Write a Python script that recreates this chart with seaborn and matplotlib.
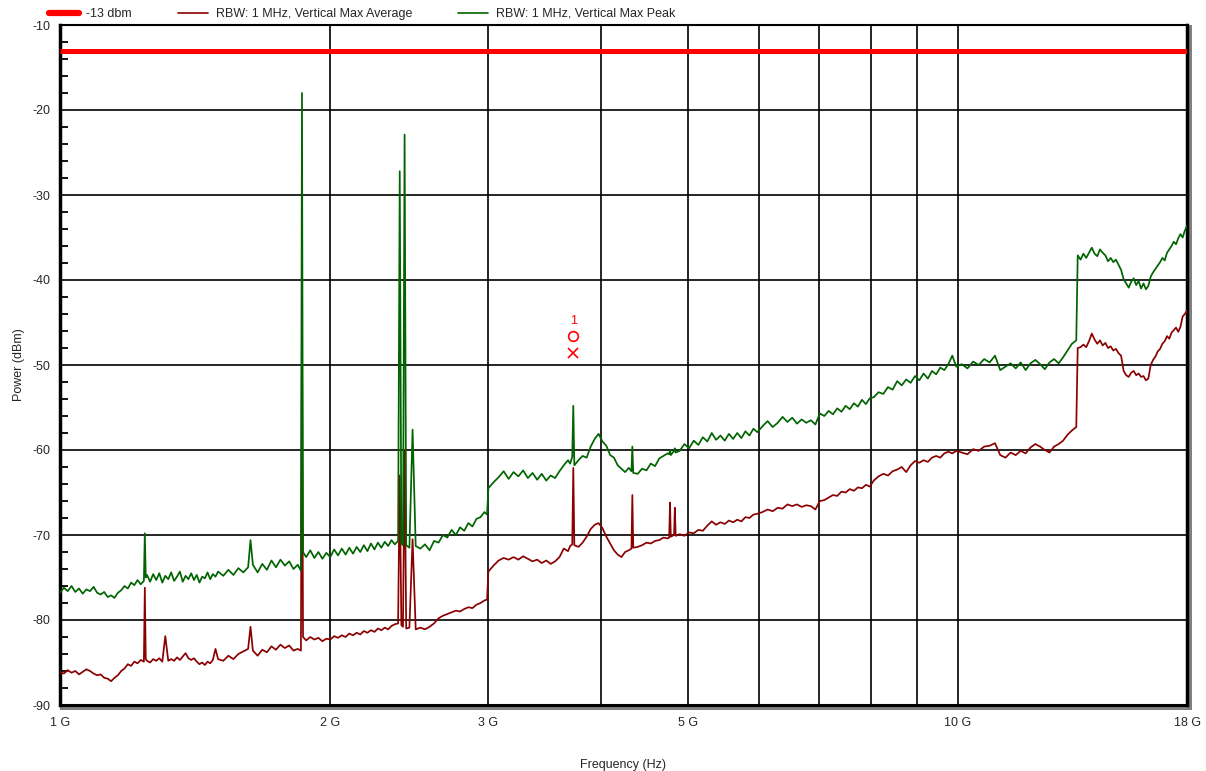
import matplotlib
matplotlib.use("Agg")
import matplotlib.pyplot as plt
import pandas as pd
import seaborn as sns
from matplotlib.lines import Line2D
from matplotlib.patches import Rectangle
from matplotlib.ticker import FixedLocator, MultipleLocator, NullFormatter

# ---------------- data ----------------
freq_ghz = [
    # 1.00 - 1.50
    1.00, 1.01, 1.02, 1.03, 1.04, 1.05, 1.06, 1.07, 1.08, 1.09,
    1.10, 1.11, 1.12, 1.13, 1.14, 1.15, 1.16, 1.17, 1.18, 1.19,
    1.20, 1.21, 1.22, 1.23, 1.24, 1.243, 1.246, 1.25, 1.26, 1.27,
    1.28, 1.29, 1.30, 1.31, 1.32, 1.33, 1.34, 1.35, 1.36, 1.37,
    1.38, 1.39, 1.40, 1.41, 1.42, 1.43, 1.44, 1.45, 1.46, 1.47,
    1.48, 1.49, 1.50,
    # 1.52 - 1.865
    1.52, 1.54, 1.56, 1.58, 1.60, 1.62, 1.63, 1.64, 1.66, 1.68,
    1.70, 1.72, 1.74, 1.76, 1.78, 1.80, 1.82, 1.84, 1.855, 1.86,
    1.865,
    # 1.88 - 2.36
    1.88, 1.90, 1.92, 1.94, 1.96, 1.98, 2.00, 2.02, 2.04, 2.06,
    2.08, 2.10, 2.12, 2.14, 2.16, 2.18, 2.20, 2.22, 2.24, 2.26,
    2.28, 2.30, 2.32, 2.34, 2.36,
    # spikes 2.38 - 2.49
    2.38, 2.39, 2.40, 2.41, 2.42, 2.43, 2.45, 2.47, 2.49,
    # 2.52 - 3.00
    2.52, 2.55, 2.58, 2.61, 2.64, 2.67, 2.70, 2.73, 2.76, 2.79,
    2.82, 2.85, 2.88, 2.91, 2.94, 2.97, 2.99, 3.00,
    # 3.04 - 3.74
    3.04, 3.08, 3.12, 3.16, 3.20, 3.24, 3.28, 3.32, 3.36, 3.40,
    3.44, 3.48, 3.52, 3.56, 3.60, 3.64, 3.68, 3.70, 3.72, 3.73,
    3.74,
    # 3.78 - 4.35
    3.78, 3.82, 3.86, 3.90, 3.94, 3.98, 4.02, 4.06, 4.10, 4.14,
    4.18, 4.22, 4.26, 4.30, 4.33, 4.34, 4.35,
    # 4.40 - 4.85
    4.40, 4.45, 4.50, 4.55, 4.60, 4.65, 4.70, 4.75, 4.77, 4.78,
    4.79, 4.83, 4.84, 4.85,
    # 4.90 - 5.98
    4.90, 4.96, 5.02, 5.08, 5.14, 5.20, 5.26, 5.32, 5.38, 5.44,
    5.50, 5.56, 5.62, 5.68, 5.74, 5.80, 5.86, 5.92, 5.98,
    # 6.06 - 7.98
    6.06, 6.14, 6.22, 6.30, 6.38, 6.46, 6.54, 6.62, 6.70, 6.78,
    6.86, 6.94, 7.02, 7.10, 7.18, 7.26, 7.34, 7.42, 7.50, 7.58,
    7.66, 7.74, 7.82, 7.90, 7.98,
    # 8.06 - 9.96
    8.06, 8.16, 8.26, 8.36, 8.46, 8.56, 8.66, 8.76, 8.86, 8.96,
    9.06, 9.16, 9.26, 9.36, 9.46, 9.56, 9.66, 9.76, 9.86, 9.96,
    # 10.10 - 13.60
    10.10, 10.25, 10.40, 10.55, 10.70, 10.85, 11.00, 11.15, 11.30, 11.45,
    11.60, 11.75, 11.90, 12.05, 12.20, 12.35, 12.50, 12.65, 12.80, 12.95,
    13.10, 13.25, 13.40, 13.55, 13.60,
    # 13.70 - 18.00
    13.70, 13.80, 13.90, 14.00, 14.10, 14.20, 14.30, 14.40, 14.50, 14.60,
    14.70, 14.80, 14.90, 15.00, 15.10, 15.20, 15.30, 15.40, 15.50, 15.60,
    15.70, 15.80, 15.90, 16.00, 16.10, 16.20, 16.30, 16.40, 16.50, 16.60,
    16.70, 16.80, 16.90, 17.00, 17.10, 17.20, 17.30, 17.40, 17.50, 17.60,
    17.70, 17.80, 17.90, 18.00,
]

avg_dbm = [
    -86.1, -86.3, -85.9, -86.2, -86.0, -86.4, -86.1, -85.8, -86.0, -86.3,
    -86.5, -86.4, -86.8, -86.9, -87.2, -86.8, -86.5, -86.0, -85.7, -85.2,
    -85.4, -84.9, -85.1, -84.7, -84.9, -76.2, -84.6, -84.8, -85.0, -84.6,
    -84.8, -84.5, -84.9, -81.9, -84.8, -84.6, -84.8, -84.4, -84.7, -84.3,
    -83.9, -84.5, -84.7, -84.5, -84.9, -85.2, -85.0, -85.3, -84.9, -85.1,
    -84.7, -83.4, -84.6,
    -84.8, -84.2, -84.6, -84.0, -83.7, -83.4, -80.8, -83.6, -84.2, -83.5,
    -83.8, -83.1, -83.5, -82.9, -83.3, -83.0, -83.6, -83.4, -83.6, -45.0,
    -82.0,
    -82.4, -82.0, -82.3, -82.1, -82.5, -82.2, -82.3, -81.9, -82.1, -81.8,
    -82.0, -81.6, -81.8, -81.5, -81.7, -81.3, -81.5, -81.2, -81.4, -81.0,
    -81.2, -80.9, -81.1, -80.7, -80.5,
    -80.4, -63.0, -80.6, -80.8, -60.0, -81.0, -80.9, -70.5, -81.1,
    -80.9, -81.1, -80.8, -80.4, -79.8, -79.5, -79.3, -79.1, -78.9, -79.0,
    -78.7, -78.5, -78.6, -78.2, -78.0, -77.7, -77.6, -74.3,
    -73.6, -73.0, -72.7, -72.9, -72.6, -72.9, -72.5, -72.8, -73.1, -72.9,
    -73.3, -73.0, -73.4, -73.1, -72.6, -71.6, -71.9, -71.3, -71.1, -62.1,
    -71.2,
    -71.4, -70.9, -70.2, -69.3, -68.8, -68.6, -69.2, -70.2, -71.0, -71.8,
    -72.3, -72.6, -72.0, -71.8, -71.6, -65.3, -71.5,
    -71.4, -71.2, -70.9, -71.0, -70.7, -70.6, -70.3, -70.4, -70.3, -66.2,
    -70.2, -70.0, -66.8, -70.1,
    -69.9, -70.1, -69.7, -69.8, -69.4, -69.5, -68.9, -68.4, -68.8, -68.5,
    -68.7, -68.3, -68.5, -68.2, -68.4, -67.9, -68.0, -67.6, -67.5,
    -67.3, -67.0, -67.2, -66.8, -66.9, -66.4, -66.6, -66.4, -66.7, -66.5,
    -66.6, -67.0, -66.0, -65.9, -65.6, -65.3, -65.4, -64.9, -65.0, -64.6,
    -64.8, -64.4, -64.5, -64.1, -64.3,
    -63.6, -63.1, -62.8, -63.0, -62.5, -62.3, -62.0, -62.6, -61.8, -61.3,
    -61.5, -61.2, -61.4, -60.9, -60.7, -60.9, -60.4, -60.2, -60.4, -60.1,
    -60.3, -60.5, -59.9, -60.1, -59.6, -59.5, -59.2, -60.6, -60.9, -60.3,
    -60.6, -60.1, -60.4, -59.7, -59.3, -59.6, -60.0, -60.3, -59.6, -59.3,
    -58.9, -58.2, -57.7, -57.3, -48.0,
    -47.9, -47.6, -47.9, -47.2, -46.3, -47.0, -47.5, -47.1, -47.7, -47.4,
    -48.0, -47.8, -48.3, -48.1, -48.6, -48.9, -50.7, -51.2, -51.4, -50.9,
    -50.7, -51.2, -51.0, -51.4, -51.3, -51.8, -51.6, -50.0, -49.4, -49.0,
    -48.4, -48.1, -47.5, -47.2, -46.6, -46.9, -46.2, -45.9, -45.6, -46.1,
    -45.5, -44.3, -44.0, -43.6,
]

peak_dbm = [
    -76.8, -76.2, -76.6, -76.0, -76.7, -76.3, -76.9, -76.4, -76.6, -76.1,
    -76.8, -77.0, -76.7, -77.3, -77.1, -77.4, -76.8, -76.5, -76.0, -76.3,
    -75.6, -75.9, -75.3, -75.8, -75.4, -69.8, -75.0, -74.7, -75.5, -74.6,
    -75.3, -74.5, -75.6, -74.8, -75.2, -74.4, -75.4, -74.9, -74.3, -75.5,
    -74.8, -75.2, -74.5, -75.3, -74.7, -75.6, -74.9, -75.1, -74.4, -75.2,
    -74.6, -74.9, -74.3,
    -74.8, -74.1, -74.7, -73.9, -74.4, -73.8, -70.6, -73.5, -74.4, -73.4,
    -74.1, -73.0, -73.8, -72.9, -73.6, -73.1, -74.0, -73.5, -74.2, -18.0,
    -72.0,
    -72.6, -71.8, -72.7, -72.0, -72.8, -72.1, -72.6, -71.7, -72.4, -71.6,
    -72.3, -71.5, -72.2, -71.4, -72.0, -71.2, -71.9, -71.0, -71.7, -70.9,
    -71.5, -70.8, -71.3, -70.6, -71.1,
    -70.7, -27.2, -71.0, -71.2, -22.9, -71.2, -71.5, -57.6, -71.3,
    -71.6, -71.1, -71.8, -70.7, -70.9, -70.0, -70.3, -69.4, -70.0, -69.1,
    -69.5, -68.6, -69.0, -68.1, -67.9, -67.3, -67.6, -64.5,
    -63.8, -63.2, -62.5, -63.4, -62.6, -63.1, -62.4, -63.3, -62.7, -63.5,
    -62.8, -63.6, -63.0, -63.3, -62.5, -61.8, -61.2, -61.6, -60.8, -54.8,
    -61.8,
    -61.2, -60.7, -60.9, -59.6, -58.7, -58.1, -59.0, -59.5, -60.6, -60.9,
    -61.8, -62.2, -62.6, -62.1, -62.5, -59.6, -62.7,
    -62.8, -62.2, -62.4, -61.6, -61.9, -61.0, -60.7, -60.4, -60.5, -60.0,
    -60.6, -60.1, -59.8, -60.3,
    -60.1, -59.3, -59.8, -58.9, -59.4, -58.5, -59.0, -58.0, -58.8, -58.3,
    -58.9, -58.1, -58.7, -58.0, -58.6, -57.8, -58.3, -57.5, -57.9,
    -57.2, -56.6, -57.3, -56.8, -56.1, -56.7, -56.2, -56.9, -56.4, -56.8,
    -56.5, -57.0, -55.7, -56.0, -55.4, -55.8, -55.1, -55.5, -54.8, -55.2,
    -54.5, -54.9, -54.1, -54.6, -53.9,
    -53.8, -53.2, -53.4, -52.6, -52.9, -51.9, -52.4, -51.7, -52.1, -51.3,
    -51.8, -51.0, -51.6, -50.7, -51.1, -50.3, -50.6, -49.9, -48.9, -50.2,
    -49.9, -50.4, -49.6, -50.0, -49.3, -49.7, -48.9, -50.6, -50.2, -49.8,
    -50.4, -49.7, -50.6, -49.8, -49.4, -49.9, -50.5, -49.7, -49.3, -49.8,
    -49.1, -48.3, -47.5, -47.1, -37.1,
    -37.6, -36.9, -37.4, -36.8, -36.2, -36.9, -37.2, -36.4, -36.8, -37.1,
    -37.8, -37.4, -37.9, -37.6, -38.2, -38.8, -39.9, -40.4, -40.9, -40.2,
    -39.8, -40.6, -40.1, -41.0, -40.4, -41.1, -40.7, -39.6, -39.1, -38.7,
    -38.3, -37.9, -37.4, -37.7, -36.8, -36.4, -36.0, -35.5, -35.8, -35.1,
    -34.6, -35.0, -34.2, -33.6,
]

limit_dbm = -13
limit_label = "-13 dbm"
avg_label = "RBW: 1 MHz, Vertical Max Average"
peak_label = "RBW: 1 MHz, Vertical Max Peak"

marker_freq_ghz = 3.73
marker_circle_dbm = -46.6
marker_cross_dbm = -48.6
marker_text_dbm = -44.8
marker_text = "1"

x_tick_vals = [1, 2, 3, 4, 5, 6, 7, 8, 9, 10, 18]
x_tick_labels = ["1 G", "2 G", "3 G", "", "5 G", "", "", "", "", "10 G", "18 G"]
y_tick_vals = [-90, -80, -70, -60, -50, -40, -30, -20, -10]
y_tick_labels = ["-90", "-80", "-70", "-60", "-50", "-40", "-30", "-20", "-10"]

x_label = "Frequency (Hz)"
y_label = "Power (dBm)"

# ---------------- styling ----------------
sns.set_style("white")
plt.rcParams["font.family"] = ["Liberation Sans", "DejaVu Sans"]

W, H = 1206, 771
fig = plt.figure(figsize=(W / 100, H / 100), dpi=100)
left, right, top, bottom = 60, 1187, 25, 705
ax = fig.add_axes([left / W, 1 - bottom / H, (right - left) / W, (bottom - top) / H])

df = pd.DataFrame({"freq": freq_ghz, "avg": avg_dbm, "peak": peak_dbm})

avg_color = "#8b0000"
peak_color = "#006400"
limit_color = "#ff0000"

ax.axhline(limit_dbm, color=limit_color, lw=3.6, zorder=4, solid_capstyle="butt")
sns.lineplot(data=df, x="freq", y="avg", ax=ax, color=avg_color, lw=1.25,
             estimator=None, sort=False, zorder=3)
sns.lineplot(data=df, x="freq", y="peak", ax=ax, color=peak_color, lw=1.25,
             estimator=None, sort=False, zorder=3)

# marker
ax.plot([marker_freq_ghz], [marker_circle_dbm], marker="o", ms=7, mfc="none",
        mec="#ff0000", mew=1.2, ls="none", zorder=5)
ax.plot([marker_freq_ghz], [marker_cross_dbm], marker="x", ms=7,
        mec="#ff0000", mew=1.2, ls="none", zorder=5)
ax.text(marker_freq_ghz, marker_text_dbm, marker_text, color="#ff0000",
        ha="center", va="center", fontsize=9, zorder=5)

ax.set_xscale("log")
ax.set_xlim(1, 18)
ax.set_ylim(-90, -10)

ax.xaxis.set_major_locator(FixedLocator(x_tick_vals))
ax.set_xticklabels(x_tick_labels)
ax.xaxis.set_minor_locator(FixedLocator([]))
ax.xaxis.set_minor_formatter(NullFormatter())
ax.set_yticks(y_tick_vals)
ax.set_yticklabels(y_tick_labels)
ax.yaxis.set_minor_locator(MultipleLocator(2))

ax.tick_params(axis="x", which="major", direction="out", length=6, width=1.3,
               labelsize=9, pad=3, color="black")
ax.tick_params(axis="y", which="major", direction="out", length=5, width=1.3,
               labelsize=9, pad=2, color="black")
ax.tick_params(axis="y", which="minor", direction="in", length=6, width=1.3,
               color="black", left=True)

ax.grid(True, which="major", color="black", lw=1.2)
ax.set_axisbelow(True)

for name, sp in ax.spines.items():
    sp.set_visible(True)
    sp.set_color("black")
ax.spines["left"].set_linewidth(2.5)
ax.spines["bottom"].set_linewidth(2.2)
ax.spines["top"].set_linewidth(1.5)
ax.spines["right"].set_linewidth(2.5)

# drop shadow (bottom and right)
ax.add_patch(Rectangle((0.0, -0.0075), 1.0045, 0.0075, transform=ax.transAxes,
                       color="#808080", clip_on=False, zorder=1, lw=0))
ax.add_patch(Rectangle((1.0, -0.0075), 0.0045, 1.0075, transform=ax.transAxes,
                       color="#808080", clip_on=False, zorder=1, lw=0))

ax.set_xlabel(x_label, fontsize=9, labelpad=21)
ax.set_ylabel(y_label, fontsize=9, labelpad=5)

handles = [
    Line2D([], [], color=limit_color, lw=4.5, solid_capstyle="round"),
    Line2D([], [], color=avg_color, lw=1.2),
    Line2D([], [], color=peak_color, lw=1.2),
]
fig.legend(handles, [limit_label, avg_label, peak_label], loc="center left",
           bbox_to_anchor=(0.031, 1 - 14 / H), ncol=3, frameon=False,
           fontsize=9, handlelength=2.4, columnspacing=3.7, handletextpad=0.6)

fig.savefig("out.png", dpi=100)
